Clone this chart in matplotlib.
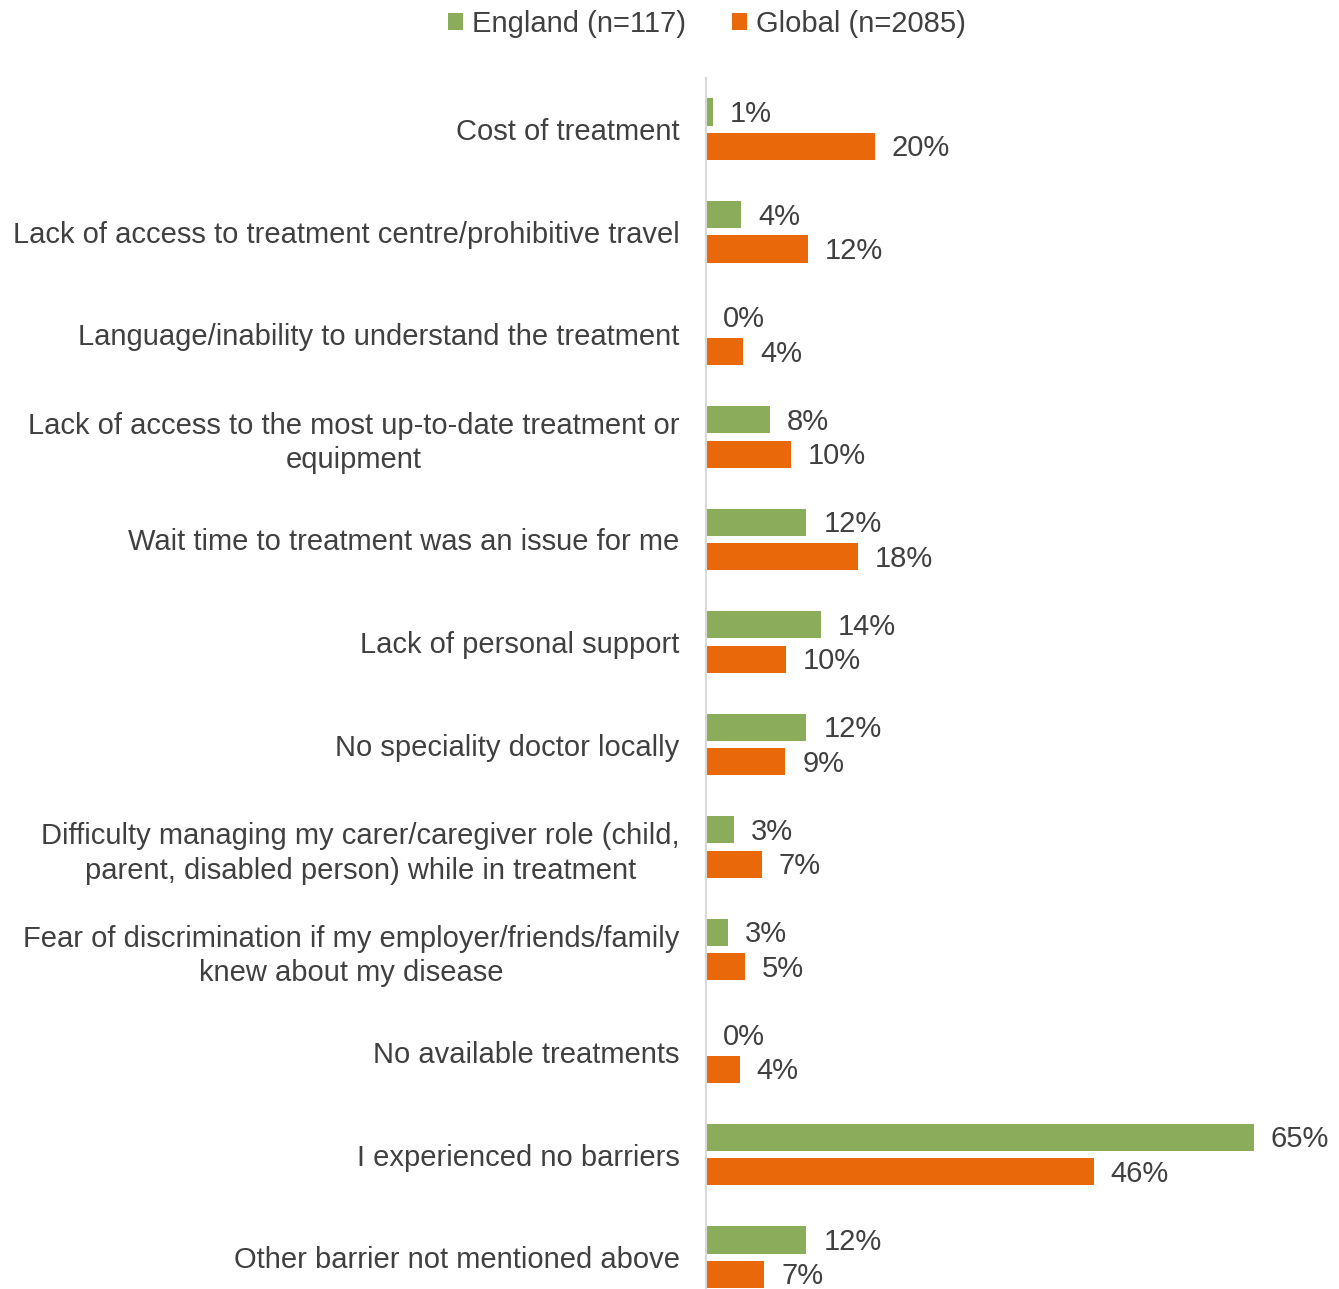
import matplotlib.pyplot as plt
import numpy as np

plt.rcParams['font.family'] = ['Liberation Sans', 'DejaVu Sans']

categories = [
    'Cost of treatment',
    'Lack of access to treatment centre/prohibitive travel',
    'Language/inability to understand the treatment',
    'Lack of access to the most up-to-date treatment or\nequipment',
    'Wait time to treatment was an issue for me',
    'Lack of personal support',
    'No speciality doctor locally',
    'Difficulty managing my carer/caregiver role (child,\nparent, disabled person) while in treatment',
    'Fear of discrimination if my employer/friends/family\nknew about my disease',
    'No available treatments',
    'I experienced no barriers',
    'Other barrier not mentioned above',
]
england = [0.8, 4.2, 0.0, 7.6, 11.9, 13.6, 11.9, 3.3, 2.6, 0.0, 65.0, 11.9]
england_labels = ['1%', '4%', '0%', '8%', '12%', '14%', '12%', '3%', '3%', '0%', '65%', '12%']
global_ = [20.0, 12.1, 4.4, 10.1, 18.0, 9.5, 9.4, 6.6, 4.6, 4.0, 46.0, 6.9]
global_labels = ['20%', '12%', '4%', '10%', '18%', '10%', '9%', '7%', '5%', '4%', '46%', '7%']

green = '#8BAC5B'
orange = '#E8680A'
text_col = '#404040'
fs = 21

fig = plt.figure(figsize=(13.39, 12.89), dpi=100)
W, H = 1339, 1289
left, right, top, bottom = 706, 1296, 78, 1289
ax = fig.add_axes([left / W, 1 - bottom / H, (right - left) / W, (bottom - top) / H])

y = np.arange(len(categories))
h = 0.265
off = 0.168
ax.barh(y - off, england, height=h, color=green, label='England (n=117)')
ax.barh(y + off, global_, height=h, color=orange, label='Global (n=2085)')

for yi, v, lab in zip(y, england, england_labels):
    ax.annotate(lab, (v, yi - off), xytext=(17, -2), textcoords='offset pixels',
                va='center', ha='left', fontsize=fs, color=text_col)
for yi, v, lab in zip(y, global_, global_labels):
    ax.annotate(lab, (v, yi + off), xytext=(17, -2), textcoords='offset pixels',
                va='center', ha='left', fontsize=fs, color=text_col)

ax.set_xlim(0, 70)
ax.set_ylim(11.31, -0.5)
ax.set_yticks(y)
ax.set_yticklabels(categories, fontsize=fs, color=text_col, multialignment='center',
                   linespacing=1.3)
ax.tick_params(axis='y', length=0, pad=19)
ax.set_xticks([])
for s in ['top', 'right', 'bottom']:
    ax.spines[s].set_visible(False)
ax.spines['left'].set_color('#D9D9D9')
ax.spines['left'].set_linewidth(1.5)

fig.legend(loc='center', bbox_to_anchor=(707 / W, 1 - 24 / H), ncol=2, frameon=False,
           fontsize=fs, labelcolor=text_col, handlelength=0.5, handleheight=0.5,
           handletextpad=0.3, columnspacing=1.6)

fig.savefig('out.png', dpi=100)
